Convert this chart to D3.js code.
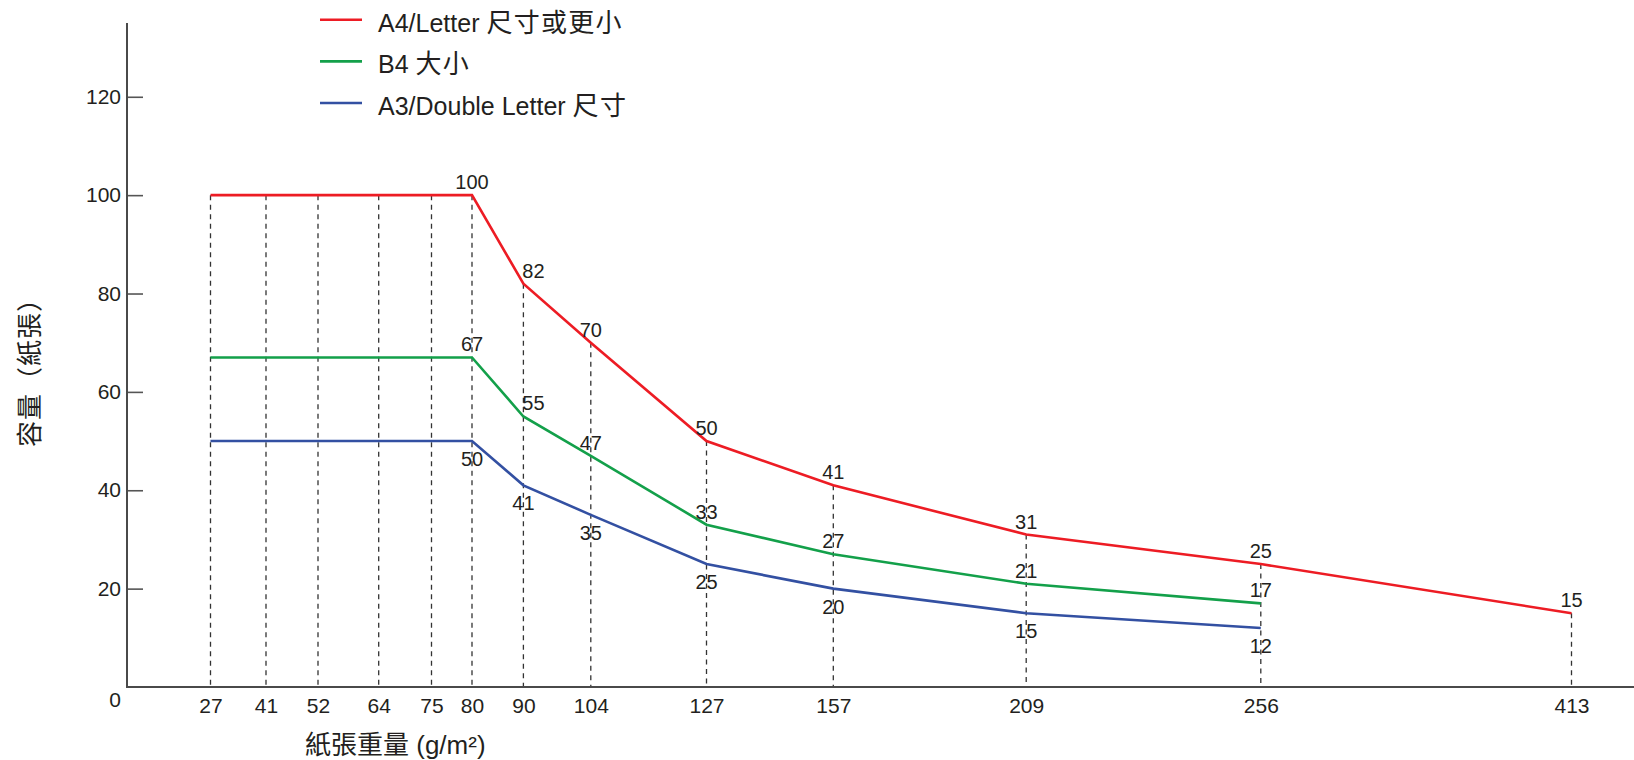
<!DOCTYPE html>
<html>
<head>
<meta charset="utf-8">
<script src="https://cdn.jsdelivr.net/npm/d3@7"></script>
<style>
  html, body { margin: 0; padding: 0; background: #fff; }
  svg { display: block; }
  text { font-family: "Liberation Sans", Arial, "Noto Sans CJK TC", sans-serif; fill: #231f20; }
  .cjk { font-family: "Noto Sans CJK TC", "Noto Sans CJK SC", sans-serif; }
</style>
</head>
<body>
<svg id="chart" width="1634" height="760"></svg>
<script>
// ---- data ----
const weights = [27, 41, 52, 64, 75, 80, 90, 104, 127, 157, 209, 256, 413];
const seriesNames = ["A4/Letter 尺寸或更小", "B4 大小", "A3/Double Letter 尺寸"];
const a4Values = [100, 100, 100, 100, 100, 100, 82, 70, 50, 41, 31, 25, 15];
const b4Values = [67, 67, 67, 67, 67, 67, 55, 47, 33, 27, 21, 17, null];
const a3Values = [50, 50, 50, 50, 50, 50, 41, 35, 25, 20, 15, 12, null];
// which points carry a value label (index list per series)
const a4Labeled = [5, 6, 7, 8, 9, 10, 11, 12];
const b4Labeled = [5, 6, 7, 8, 9, 10, 11];
const a3Labeled = [5, 6, 7, 8, 9, 10, 11];
const yTicks = [0, 20, 40, 60, 80, 100, 120];
const yTitle = "容量（紙張）";
const xTitle = "紙張重量 (g/m²)";

// ---- layout ----
const svg = d3.select("#chart");
const x0 = 127, yBottom = 687, yTop = 23, xRight = 1634;
// the reference places the weight columns unevenly: piecewise-linear scale
const xStops = [210.5, 266, 318, 378.7, 431.5, 472, 523.4, 590.8, 706.5, 833.3, 1026.2, 1260.8, 1571.5];
const x = d3.scaleLinear().domain(weights).range(xStops);
const y = d3.scaleLinear().domain([0, 135]).range([yBottom, yTop]);

const series = [
  { name: seriesNames[0], values: a4Values, color: "#ed1c24", labeled: a4Labeled, pos: "above" },
  { name: seriesNames[1], values: b4Values, color: "#13a04a", labeled: b4Labeled, pos: "above" },
  { name: seriesNames[2], values: a3Values, color: "#3350a2", labeled: a3Labeled, pos: "below" }
];

// split mixed text into latin / CJK tspans
function mixedText(sel, str, cjkSize, cjkSpacing) {
  const parts = str.match(/[\u3000-\u9fff\uff00-\uffef]+|[^\u3000-\u9fff\uff00-\uffef]+/g);
  parts.forEach(p => {
    const isCjk = /[\u3000-\u9fff\uff00-\uffef]/.test(p);
    const t = sel.append("tspan").text(p);
    if (isCjk) {
      t.attr("class", "cjk").attr("font-size", cjkSize);
      if (cjkSpacing) t.attr("letter-spacing", cjkSpacing);
    }
  });
}

// dashed drop lines from the highest value to the axis
const gDrop = svg.append("g");
weights.forEach((w, i) => {
  const top = d3.max(series, s => s.values[i]);
  gDrop.append("line")
    .attr("x1", x(w)).attr("x2", x(w))
    .attr("y1", y(top)).attr("y2", y(0))
    .attr("stroke", "#333").attr("stroke-width", 1.3)
    .attr("stroke-dasharray", "5,4.5");
});

// lines
const line = d3.line()
  .defined(d => d.v != null)
  .x(d => x(d.w)).y(d => y(d.v));
series.forEach(s => {
  const pts = weights.map((w, i) => ({ w, v: s.values[i] }));
  svg.append("path").datum(pts)
    .attr("d", line)
    .attr("fill", "none")
    .attr("stroke", s.color)
    .attr("stroke-width", 2.6)
    .attr("stroke-linejoin", "miter");
});

// value labels
series.forEach(s => {
  s.labeled.forEach(i => {
    const w = weights[i], v = s.values[i];
    // after the first drop the line comes from the upper left: nudge label right
    const dx = (s.pos === "above" && w === 90) ? 10 : 0;
    svg.append("text")
      .attr("x", x(w) + dx)
      .attr("y", s.pos === "above" ? y(v) - 6 : y(v) + 25)
      .attr("text-anchor", "middle")
      .attr("font-size", 20)
      .text(v);
  });
});

// axes
const yAxis = d3.axisLeft(y).tickValues(yTicks).tickSize(-16).tickPadding(6);
const gy = svg.append("g").attr("transform", `translate(${x0},0)`).call(yAxis);
gy.select(".domain").remove();
gy.selectAll(".tick line").attr("stroke", "#555").attr("stroke-width", 1.6)
  .filter(d => d === 0).remove();
gy.selectAll(".tick text").attr("font-size", 21).attr("fill", "#231f20")
  .attr("font-family", "'Liberation Sans', Arial, sans-serif")
  .filter(d => d === 0).attr("dy", "0.95em");

const xAxis = d3.axisBottom(x).tickValues(weights).tickSize(0).tickPadding(11).tickFormat(d3.format("d"));
const gx = svg.append("g").attr("transform", `translate(0,${yBottom})`).call(xAxis);
gx.select(".domain").remove();
gx.selectAll(".tick text").attr("font-size", 21).attr("fill", "#231f20")
  .attr("font-family", "'Liberation Sans', Arial, sans-serif");

svg.append("line").attr("x1", x0).attr("x2", x0).attr("y1", yTop).attr("y2", yBottom)
  .attr("stroke", "#4a4a4a").attr("stroke-width", 2);
svg.append("line").attr("x1", x0 - 1).attr("x2", xRight).attr("y1", yBottom).attr("y2", yBottom)
  .attr("stroke", "#4a4a4a").attr("stroke-width", 2);

// axis titles
const yt = svg.append("text")
  .attr("transform", `translate(39,366) rotate(-90)`)
  .attr("text-anchor", "middle")
  .attr("font-size", 26);
mixedText(yt, yTitle, 26, 1);
const xt = svg.append("text")
  .attr("x", 305).attr("y", 754)
  .attr("font-size", 26);
mixedText(xt, xTitle, 26, 0);

// legend
const legend = svg.append("g");
series.forEach((s, k) => {
  const ly = 19.8 + k * 41.6;
  legend.append("line")
    .attr("x1", 320).attr("x2", 362).attr("y1", ly).attr("y2", ly)
    .attr("stroke", s.color).attr("stroke-width", 2.6);
  const t = legend.append("text")
    .attr("x", 378).attr("y", ly + 12)
    .attr("font-size", 25);
  mixedText(t, s.name, 26, 1.3);
});
</script>
</body>
</html>
